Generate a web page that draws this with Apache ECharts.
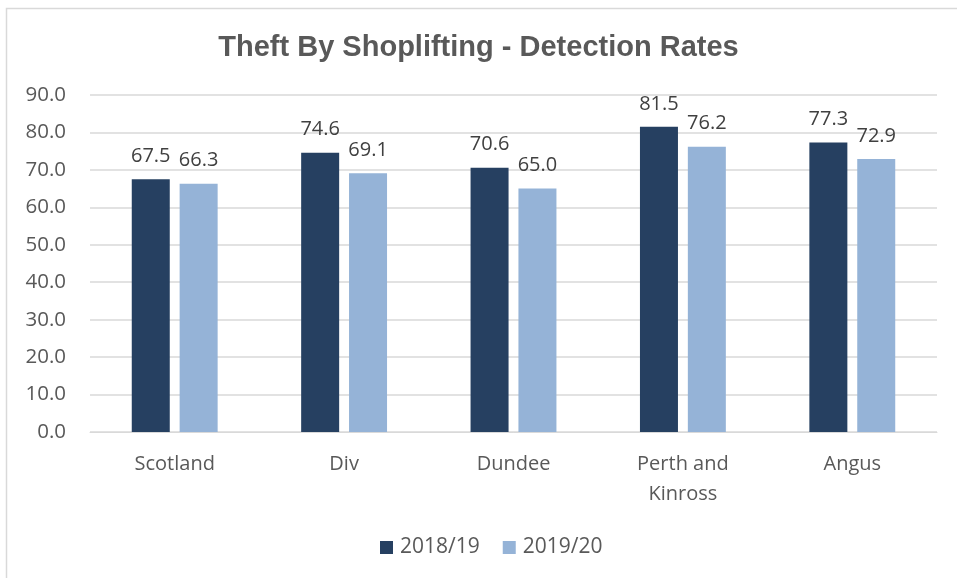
<!DOCTYPE html>
<html>
<head>
<meta charset="utf-8">
<script src="https://cdn.jsdelivr.net/npm/echarts@6/dist/echarts.min.js"></script>
<style>
  html, body { margin: 0; padding: 0; background: #ffffff; }
  #chart { width: 957px; height: 578px; }
</style>
</head>
<body>
<div id="chart"></div>
<script>
// Areas shown along the x axis
const categories = ['Scotland', 'Div', 'Dundee', 'Perth and\nKinross', 'Angus'];
// Detection rates (%) per year
const rates2018 = [67.5, 74.6, 70.6, 81.5, 77.3];
const rates2019 = [66.3, 69.1, 65.0, 76.2, 72.9];
const seriesNames = ['2018/19', '2019/20'];
const yTicks = { min: 0, max: 90, interval: 10 };

const labelFont = '"Open Sans", "Noto Sans", sans-serif';

const chart = echarts.init(document.getElementById('chart'), null, { renderer: 'canvas' });

function barSeries(name, values, color) {
  return {
    name: name,
    type: 'bar',
    data: values,
    barWidth: 38,
    barGap: '26%',
    itemStyle: { color: color },
    label: {
      show: true,
      position: 'top',
      distance: 13,
      color: '#404040',
      fontFamily: labelFont,
      fontSize: 20,
      formatter: p => p.value.toFixed(1)
    }
  };
}

chart.setOption({
  animation: false,
  backgroundColor: '#ffffff',
  graphic: [{
    type: 'rect',
    shape: { x: 6.5, y: 8.5, width: 970, height: 600 },
    style: { fill: 'none', stroke: '#d9d9d9', lineWidth: 1.5 },
    silent: true
  }],
  title: {
    text: 'Theft By Shoplifting - Detection Rates',
    left: 'center',
    top: 28,
    textStyle: {
      fontFamily: 'Arial, "Liberation Sans", sans-serif',
      fontWeight: 'bold',
      fontSize: 29,
      color: '#595959'
    }
  },
  legend: {
    bottom: 15,
    left: 375,
    itemWidth: 13,
    itemHeight: 13,
    itemGap: 23,
    icon: 'rect',
    textStyle: {
      fontFamily: labelFont,
      fontSize: 21,
      color: '#595959',
      padding: [0, 0, 0, 2]
    },
    data: seriesNames
  },
  grid: {
    left: 90,
    right: 20,
    top: 95,
    bottom: 146,
    containLabel: false
  },
  xAxis: {
    type: 'category',
    data: categories,
    axisLine: { show: true, lineStyle: { color: '#d9d9d9', width: 1 } },
    axisTick: { show: false },
    axisLabel: {
      color: '#595959',
      fontFamily: labelFont,
      fontSize: 20,
      margin: 17,
      lineHeight: 30
    }
  },
  yAxis: {
    type: 'value',
    min: yTicks.min,
    max: yTicks.max,
    interval: yTicks.interval,
    axisLine: { show: false },
    axisTick: { show: false },
    splitLine: { lineStyle: { color: '#d9d9d9', width: 1.5 } },
    axisLabel: {
      color: '#595959',
      fontFamily: labelFont,
      fontSize: 20.5,
      margin: 24,
      formatter: v => v.toFixed(1)
    }
  },
  series: [
    barSeries(seriesNames[0], rates2018, '#264061'),
    barSeries(seriesNames[1], rates2019, '#95b3d7')
  ]
});
</script>
</body>
</html>
